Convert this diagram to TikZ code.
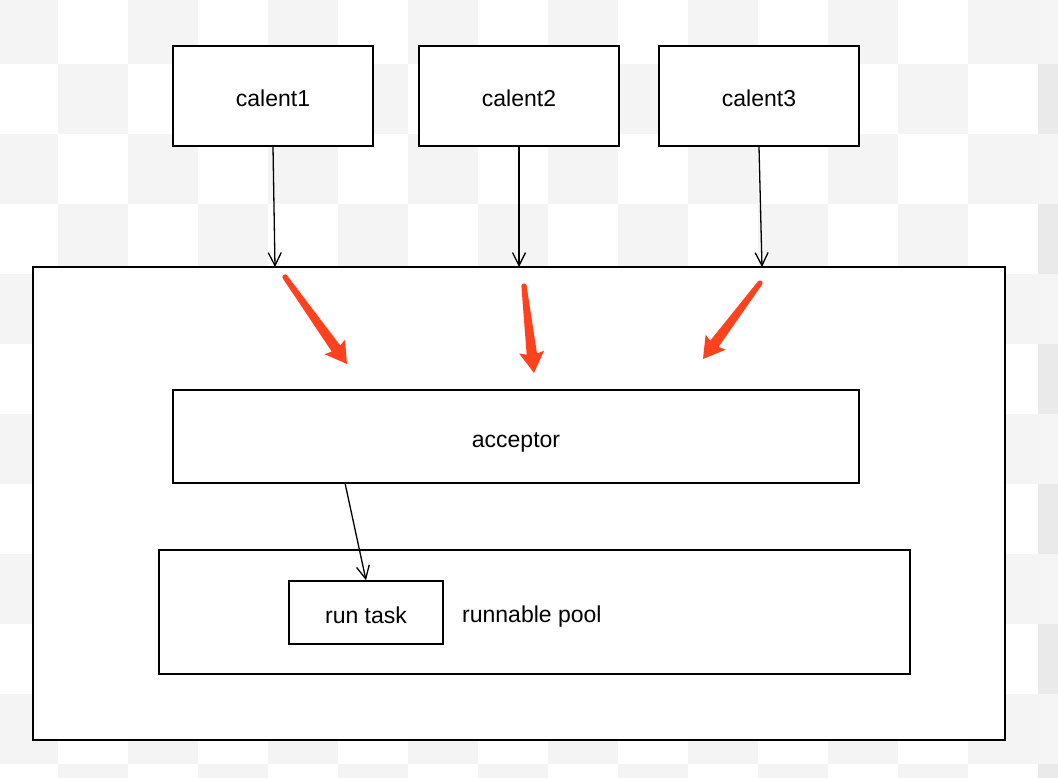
\documentclass[tikz,border=0pt]{standalone}
\usepackage{fontspec}
\setmainfont{Liberation Sans}
\usetikzlibrary{arrows.meta,calc}
\definecolor{checkgrey}{HTML}{F4F4F4}
\definecolor{redarrow}{RGB}{255,66,30}
\tikzset{
  box/.style={draw=black, line width=1.6pt, fill=white, inner sep=0pt, text height=21pt, text depth=0pt, font=\fontsize{23}{27}\selectfont},
  conn/.style={draw=black, line width=1.3pt, -{Straight Barb[length=13pt,width=13pt,line width=1.3pt]}},
  lbl/.style={inner sep=0pt, font=\fontsize{23}{27}\selectfont},
}
% tapered red arrow from #1 (start) to #2 (tip)
\newcommand\myredarrow[2]{%
  \coordinate (hb) at ($(#2)!21pt!(#1)$);
  \coordinate (hw) at ($(#2)!19pt!(#1)$);
  \fill[redarrow, line join=round]
    ($(#1)!2.6pt!90:(#2)$) --
    ($(hw)!5.2pt!90:(#2)$) --
    ($(hb)!12.5pt!90:(#2)$) --
    (#2) --
    ($(hb)!12.5pt!-90:(#2)$) --
    ($(hw)!5.2pt!-90:(#2)$) --
    ($(#1)!2.6pt!-90:(#2)$) -- cycle;
  \fill[redarrow] (#1) circle (2.6pt);
}
\begin{document}
\begin{tikzpicture}[x=1pt,y=-1pt]
\useasboundingbox (0,0) rectangle (1058,778);
% checkerboard background
\begin{scope}
\clip (0,0) rectangle (1058,778);
\foreach \i in {0,...,15}{
  \foreach \j in {0,...,11}{
    \pgfmathtruncatemacro\s{mod(\i+\j,2)}
    \ifnum\s=0
      \fill[checkgrey] (-12+70*\i,-6+70*\j) rectangle ++(70,70);
    \fi
  }
}
\fill[black, opacity=0.04] (1038,0) rectangle (1058,778);
\end{scope}
% top client boxes
\node[box, minimum width=200pt, minimum height=100pt] (c1) at (273,96) {calent1};
\node[box, minimum width=200pt, minimum height=100pt] (c2) at (519,96) {calent2};
\node[box, minimum width=200pt, minimum height=100pt] (c3) at (759,96) {calent3};
% outer container
\node[box, minimum width=972pt, minimum height=473pt] (outer) at (519,503.5) {};
% acceptor
\node[box, minimum width=686pt, minimum height=93pt] (acc) at (516,436.5) {acceptor};
% runnable pool
\node[box, minimum width=751pt, minimum height=124pt] (pool) at (534.5,612) {};
\node[box, minimum width=154pt, minimum height=63pt] (task) at (366,612.5) {run task};
\node[lbl, anchor=base west] (poollbl) at (462,622.5) {runnable pool};
% connector end points
\coordinate (e1) at (275,267);
\coordinate (e2) at (519,267);
\coordinate (e3) at (762,267);
\coordinate (accout) at (345,483);
\draw[conn] (c1.south) -- (e1);
\draw[conn] (c2.south) -- (e2);
\draw[conn] (c3.south) -- (e3);
\draw[conn] (accout) -- (task.north);
% red annotation arrows
\coordinate (r1s) at (285,277);
\coordinate (r1e) at (347,364);
\coordinate (r2s) at (524,286);
\coordinate (r2e) at (534,373);
\coordinate (r3s) at (760,283);
\coordinate (r3e) at (703,359);
\myredarrow{r1s}{r1e}
\myredarrow{r2s}{r2e}
\myredarrow{r3s}{r3e}
\end{tikzpicture}
\end{document}
